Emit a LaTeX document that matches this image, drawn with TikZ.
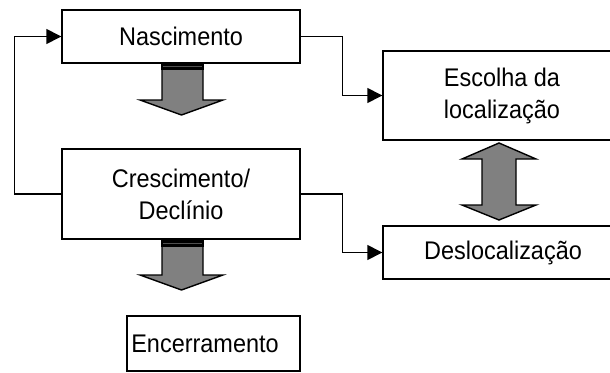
\documentclass[tikz,border=0pt]{standalone}
\usepackage{fontspec}
\setmainfont[FakeStretch=0.92]{Liberation Sans}
\usetikzlibrary{arrows.meta}
\definecolor{shaftgray}{RGB}{128,128,128}
\definecolor{bandline}{RGB}{80,80,80}
\begin{document}
\begin{tikzpicture}[x=1pt,y=-1pt,
  box/.style={draw, line width=1.4pt, rectangle, inner sep=0pt, align=center,
    font=\fontsize{25.5}{32}\selectfont},
  txt/.style={inner sep=0pt, font=\fontsize{25.5}{32}\selectfont},
  link/.style={line width=1.4pt, -{Triangle[length=15pt,width=15pt]}},
  blockarrow/.style={draw, line width=1.4pt, fill=shaftgray, line join=miter}
]
\useasboundingbox (0,0) rectangle (610,372);
\clip (0,0) rectangle (610,372);

% stages
\node[box, minimum width=238pt, minimum height=53pt] (nasc) at (181,36.5) {Nascimento};
\node[box, minimum width=238pt, minimum height=90pt] (cresc) at (181,194) {Crescimento/\\Declínio};
\node[box, minimum width=238pt, minimum height=89pt] (esc) at (502,95.5) {Escolha da\\localização};
\node[box, minimum width=240pt, minimum height=53pt] (desl) at (503,252.5) {Deslocalização};
\node[box, minimum width=173pt, minimum height=55pt] (enc) at (213.5,343.5) {};
\node[txt] (enctxt) at (205,343.5) {Encerramento};

% connectors
\draw[link] (nasc.east) -- ++(42,0) |- (esc.west);
\draw[link] (cresc.east) -- ++(42,0) |- (desl.west);
\draw[link] (cresc.west) -- ++(-47,0) |- (nasc.west);

% block arrow below Nascimento
\draw[blockarrow] (162,63) -- (162,100) -- (140,100) -- (181.5,115) -- (223,100) -- (203,100) -- (203,63);
\fill[black] (161.3,63) rectangle (203.7,70);
\draw[line width=0.8pt, bandline] (163,66.5) -- (202,66.5);

% block arrow below Crescimento/Declinio
\draw[blockarrow] (162,239) -- (162,275) -- (140,275) -- (181.5,290) -- (223,275) -- (203,275) -- (203,239);
\fill[black] (161.3,239) rectangle (203.7,247);
\draw[line width=0.8pt, bandline] (163,243.5) -- (202,243.5);

% two-way block arrow
\draw[blockarrow] (499,143) -- (536,159) -- (516,159) -- (516,205) -- (536,205) -- (499,220)
  -- (462,205) -- (482,205) -- (482,159) -- (462,159) -- cycle;
\end{tikzpicture}
\end{document}
